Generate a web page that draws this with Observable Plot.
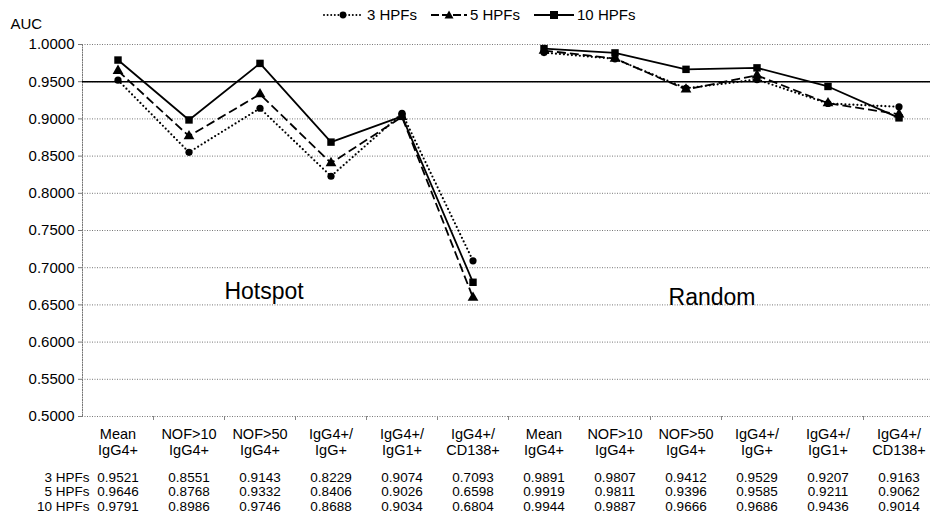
<!DOCTYPE html>
<html>
<head>
<meta charset="utf-8">
<script src="https://cdn.jsdelivr.net/npm/d3@7"></script>
<script src="https://cdn.jsdelivr.net/npm/@observablehq/plot@0.6"></script>
<style>
  html, body { margin: 0; padding: 0; background: #fff; overflow: hidden; }
  #wrap { position: relative; width: 930px; height: 530px; font-family: "Liberation Sans", Arial, sans-serif; }
  #legend { position: absolute; top: 6px; left: 322px; display: flex; gap: 14px; font-size: 15px; align-items: center; color: #000; }
  #legend .item { display: flex; align-items: center; gap: 3px; }
</style>
</head>
<body>
<div id="wrap">
  <div id="legend"></div>
</div>
<script>
// ---- data ----
const categories = ["Mean\nIgG4+", "NOF>10\nIgG4+", "NOF>50\nIgG4+", "IgG4+/\nIgG+", "IgG4+/\nIgG1+", "IgG4+/\nCD138+"];
const groups = ["Hotspot", "Random"];
const seriesNames = ["3 HPFs", "5 HPFs", "10 HPFs"];
const hpf3  = [0.9521, 0.8551, 0.9143, 0.8229, 0.9074, 0.7093, 0.9891, 0.9807, 0.9412, 0.9529, 0.9207, 0.9163];
const hpf5  = [0.9646, 0.8768, 0.9332, 0.8406, 0.9026, 0.6598, 0.9919, 0.9811, 0.9396, 0.9585, 0.9211, 0.9062];
const hpf10 = [0.9791, 0.8986, 0.9746, 0.8688, 0.9034, 0.6804, 0.9944, 0.9887, 0.9666, 0.9686, 0.9436, 0.9014];
const yTicks = [0.5, 0.55, 0.6, 0.65, 0.7, 0.75, 0.8, 0.85, 0.9, 0.95, 1.0];
const refLine = [0.95];

// ---- build table ----
const keys = groups.flatMap(g => categories.map(c => g + "|" + c));
const seriesValues = [hpf3, hpf5, hpf10];
const rows = [];
seriesNames.forEach((s, si) => {
  seriesValues[si].forEach((v, i) => {
    rows.push({series: s, key: keys[i], group: keys[i].split("|")[0], value: v});
  });
});
const styles = {
  "3 HPFs":  {dash: "0,4", width: 2.2, cap: "round", symbol: "circle", r: 3.6},
  "5 HPFs":  {dash: "9,4", width: 1.8, cap: "butt", symbol: "triangle", r: 4.0},
  "10 HPFs": {dash: null, width: 1.8, cap: "butt", symbol: "square", r: 4.2}
};

const lineMarks = seriesNames.flatMap(s => {
  const st = styles[s];
  const d = rows.filter(r => r.series === s);
  return [
    Plot.line(d, {x: "key", y: "value", z: "group", stroke: "black", strokeWidth: st.width,
                  strokeDasharray: st.dash, strokeLinecap: st.cap}),
    Plot.dot(d, {x: "key", y: "value", symbol: () => st.symbol, r: st.r, fill: "black", stroke: "none"})
  ];
});

const tableFormat = k => {
  const i = keys.indexOf(k);
  return seriesValues.map(arr => arr[i].toFixed(4)).join("\n");
};

const W = 930, ML = 82, MR = -4;
const bw = (W - MR - ML) / keys.length;

const chart = Plot.plot({
  width: W,
  height: 530,
  marginLeft: ML,
  marginRight: MR,
  marginTop: 44,
  marginBottom: 114,
  style: {fontFamily: "'Liberation Sans', Arial, sans-serif", fontSize: "15px", color: "black", background: "white", overflow: "hidden"},
  x: {type: "band", domain: keys, padding: 0, axis: null},
  y: {domain: [0.5, 1.0], axis: null},
  symbol: {type: "identity"},
  marks: [
    Plot.gridY(yTicks, {stroke: "#777", strokeOpacity: 1, strokeDasharray: "1,1.5"}),
    Plot.frame({anchor: "left", stroke: "#777", strokeDasharray: "1,1.5"}),
    Plot.ruleX(keys.slice(1), {x: d => d, y1: 0.5, y2: 0.5, insetBottom: -4, dx: -bw / 2, stroke: "#888"}),
    Plot.ruleY(refLine, {stroke: "black", strokeWidth: 1.6}),
    Plot.axisY(yTicks, {tickFormat: d3.format(".4f"), tickSize: 4, tickPadding: 4, stroke: "#777", fontSize: 15, label: null}),
    Plot.text(["AUC"], {frameAnchor: "top-left", dx: -72, dy: -26, textAnchor: "start", fontSize: 15}),
    Plot.axisX({tickSize: 0, tickPadding: 12, tickFormat: k => k.split("|")[1], fontSize: 14.5, lineHeight: 1.05, label: null}),
    Plot.axisX({tickSize: 0, tickPadding: 55, tickFormat: tableFormat, fontSize: 13.5, lineHeight: 1.08, label: null}),
    Plot.text([seriesNames.join("\n")], {frameAnchor: "bottom-left", textAnchor: "end", lineAnchor: "top", dx: 7, dy: 55, fontSize: 13.5, lineHeight: 1.08}),
    Plot.text([{key: keys[2], y: 0.668, t: "Hotspot"}], {x: "key", y: "y", text: "t", fontSize: 23, dx: 4}),
    Plot.text([{key: keys[8], y: 0.66, t: "Random"}], {x: "key", y: "y", text: "t", fontSize: 23, dx: 26}),
    ...lineMarks
  ]
});
document.getElementById("wrap").appendChild(chart);

// ---- legend ----
const legend = document.getElementById("legend");
const legendSvg = {
  "3 HPFs":  '<line x1="2" y1="7" x2="40" y2="7" stroke="black" stroke-width="2" stroke-dasharray="0,3.6" stroke-linecap="round"/><circle cx="21" cy="7" r="3.4" fill="black"/>',
  "5 HPFs":  '<line x1="0" y1="7" x2="36" y2="7" stroke="black" stroke-width="1.8" stroke-dasharray="8,3"/><path d="M18,2.5 L22.5,10.5 L13.5,10.5 Z" fill="black"/>',
  "10 HPFs": '<line x1="0" y1="7" x2="40" y2="7" stroke="black" stroke-width="1.8"/><rect x="16" y="3" width="8" height="8" fill="black"/>'
};
const widths = {"3 HPFs": 42, "5 HPFs": 36, "10 HPFs": 40};
seriesNames.forEach(s => {
  const it = document.createElement("div");
  it.className = "item";
  it.innerHTML = `<svg width="${widths[s]}" height="14">${legendSvg[s]}</svg><span>${s}</span>`;
  legend.appendChild(it);
});
</script>
</body>
</html>
